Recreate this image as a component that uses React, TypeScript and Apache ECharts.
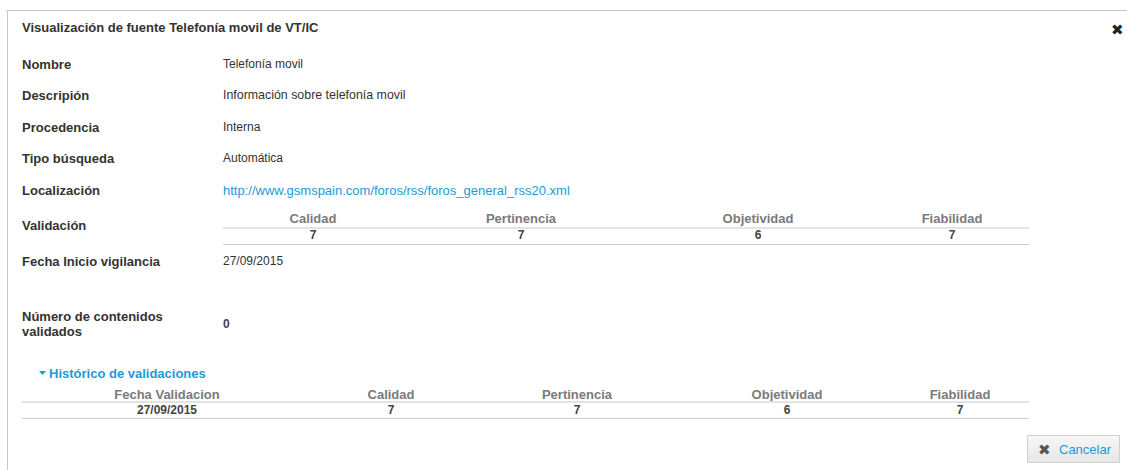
import React, { useEffect, useRef } from "react";
import * as echarts from "echarts";

const dialogTitle = "Visualización de fuente Telefonía movil de VT/IC";
const fieldLabels = ["Nombre", "Descripión", "Procedencia", "Tipo búsqueda", "Localización"];
const fieldValues = [
  "Telefonía movil",
  "Información sobre telefonía movil",
  "Interna",
  "Automática",
  "http://www.gsmspain.com/foros/rss/foros_general_rss20.xml",
];
const validationLabel = "Validación";
const criteria = ["Calidad", "Pertinencia", "Objetividad", "Fiabilidad"];
const validationScores = [7, 7, 6, 7];
const startLabel = "Fecha Inicio vigilancia";
const startDate = "27/09/2015";
const countLabel = ["Número de contenidos", "validados"];
const countValue = 0;
const historyTitle = "Histórico de validaciones";
const historyHeaders = ["Fecha Validacion", "Calidad", "Pertinencia", "Objetividad", "Fiabilidad"];
const historyRow = ["27/09/2015", "7", "7", "6", "7"];
const cancelText = "Cancelar";

const FONT = "Arial, 'Liberation Sans', sans-serif";
const fieldY = [64, 95, 127, 158, 190];
const valColX = [313, 521, 758, 952];
const histColX = [167, 391, 577, 787, 960];

export default function App() {
  const ref = useRef<HTMLDivElement>(null);
  useEffect(() => {
    document.body.style.margin = "0";
    const chart = echarts.init(ref.current!, null, { renderer: "svg" });
    const els: any[] = [];
    const txt = (x: number, y: number, text: string, o: any = {}) =>
      els.push({
        type: "text",
        x,
        y,
        silent: true,
        style: {
          text,
          fontFamily: FONT,
          fontSize: o.size ?? 12,
          fontWeight: o.bold ? "bold" : "normal",
          fill: o.color ?? "#333333",
          align: o.align ?? "left",
          verticalAlign: "middle",
        },
      });
    const hline = (x1: number, x2: number, y: number, w: number, c: string) =>
      els.push({ type: "line", silent: true, shape: { x1, y1: y, x2, y2: y }, style: { stroke: c, lineWidth: w } });

    // frame
    els.push({ type: "rect", shape: { x: 0, y: 0, width: 1127, height: 470 }, style: { fill: "#ffffff" } });
    hline(6, 1127, 10.5, 1, "#c8c8c8");
    els.push({ type: "line", shape: { x1: 7.5, y1: 10, x2: 7.5, y2: 470 }, style: { stroke: "#c8c8c8", lineWidth: 1 } });

    txt(22, 27, dialogTitle, { bold: true, size: 13 });
    // close x
    txt(1117, 29, "✖", { size: 15, color: "#222222", align: "center" });

    fieldLabels.forEach((l, i) => {
      txt(22, fieldY[i], l, { bold: true, size: 13 });
      txt(223, fieldY[i], fieldValues[i], {
        color: i === 4 ? "#1e9ad6" : "#333333",
        size: i === 4 ? 13 : i === 1 ? 12.4 : 12,
      });
    });

    // validation
    txt(22, 225, validationLabel, { bold: true, size: 13 });
    criteria.forEach((c, i) => {
      txt(valColX[i], 218, c, { bold: true, color: "#7a7a7a", align: "center", size: 13 });
      txt(valColX[i], 235, String(validationScores[i]), { bold: true, color: "#444444", align: "center" });
    });
    hline(223, 1029, 228, 2, "#e3e3e3");
    hline(223, 1029, 244.5, 1, "#cfcfcf");

    txt(22, 261, startLabel, { bold: true, size: 13 });
    txt(223, 261, startDate);

    txt(22, 316, countLabel[0], { bold: true, size: 13 });
    txt(22, 331, countLabel[1], { bold: true, size: 13 });
    txt(223, 324, String(countValue), { bold: true, color: "#444444" });

    // history
    els.push({
      type: "polygon",
      shape: { points: [[39, 371], [46, 371], [42.5, 375]] },
      style: { fill: "#1e9ad6" },
    });
    txt(49, 373, historyTitle, { bold: true, color: "#1e9ad6", size: 13 });
    historyHeaders.forEach((h, i) => {
      txt(histColX[i], 394, h, { bold: true, color: "#7a7a7a", align: "center", size: 13 });
      txt(histColX[i], 410, historyRow[i], { bold: true, color: "#444444", align: "center" });
    });
    hline(22, 1029, 402, 2, "#e3e3e3");
    hline(22, 1029, 418.5, 1, "#cfcfcf");

    // cancel button
    els.push({
      type: "rect",
      shape: { x: 1027.5, y: 435.5, width: 92, height: 27 },
      style: {
        fill: new echarts.graphic.LinearGradient(0, 0, 0, 1, [
          { offset: 0, color: "#f7f7f7" },
          { offset: 1, color: "#e6e6e6" },
        ]),
        stroke: "#d0d0d0",
        lineWidth: 1,
      },
    });
    txt(1044, 449, "✖", { size: 15, color: "#555555", align: "center" });
    txt(1059, 449, cancelText, { size: 13, color: "#1e9ad6" });

    chart.setOption({ animation: false, graphic: { elements: els } });
    return () => chart.dispose();
  }, []);
  return <div ref={ref} style={{ width: 1127, height: 470 }} />;
}
